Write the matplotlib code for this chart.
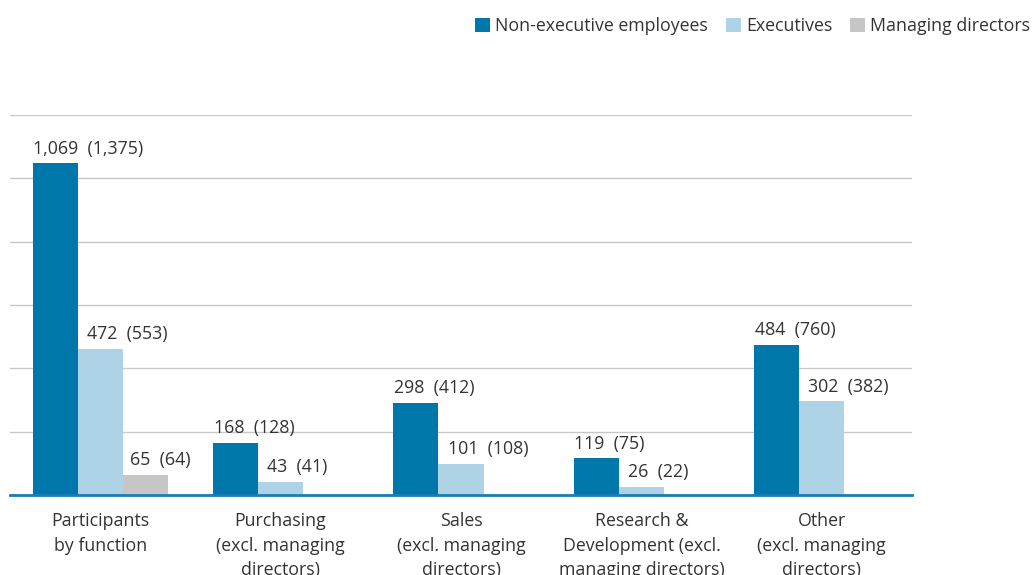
import matplotlib
matplotlib.use("Agg")
import matplotlib.pyplot as plt
import numpy as np
from matplotlib.patches import Patch

plt.rcParams['font.family'] = ['Open Sans', 'DejaVu Sans']

categories = ["Participants\nby function",
              "Purchasing\n(excl. managing\ndirectors)",
              "Sales\n(excl. managing\ndirectors)",
              "Research &\nDevelopment (excl.\nmanaging directors)",
              "Other\n(excl. managing\ndirectors)"]
series_names = ["Non-executive employees", "Executives", "Managing directors"]
non_exec = [1069, 168, 298, 119, 484]
non_exec_prev = ["1,375", "128", "412", "75", "760"]
execs = [472, 43, 101, 26, 302]
execs_prev = ["553", "41", "108", "22", "382"]
mds = [65, None, None, None, None]
mds_prev = ["64", None, None, None, None]

colors = ["#0077aa", "#aed3e6", "#c6c6c6"]

fig = plt.figure(figsize=(10.33, 5.75), dpi=100)
ax = fig.add_axes([0.0097, 0.139, 0.8732, 0.661])

ymax = 1225
ax.set_ylim(0, ymax)
ax.set_xlim(-0.5, len(categories) - 0.5)
ax.set_yticks(np.linspace(0, ymax, 7))
ax.yaxis.grid(True, color="#c8c8c8", linewidth=1)
ax.set_axisbelow(True)
ax.tick_params(left=False, labelleft=False, bottom=False)
for s in ["top", "right", "left"]:
    ax.spines[s].set_visible(False)
ax.spines["bottom"].set_color("#1a7db5")
ax.spines["bottom"].set_linewidth(2)

width = 0.25
x = np.arange(len(categories))
all_series = [(non_exec, non_exec_prev), (execs, execs_prev), (mds, mds_prev)]
x_offsets = [0.5, 6.5, 5.5]
for i, (vals, prevs) in enumerate(all_series):
    for j, (v, p) in enumerate(zip(vals, prevs)):
        if v is None:
            continue
        left = x[j] + (i - 1) * width - width / 2
        ax.bar(left, v, width=width, align="edge", color=colors[i], zorder=2)
        txt = f"{v:,}  ({p})"
        ax.annotate(txt, (left, v), xytext=(x_offsets[i], 4), textcoords="offset points",
                    ha="left", va="bottom", fontsize=12.8, color="#333333")

ax.set_xticks(x)
ax.set_xticklabels(categories, fontsize=12.8, color="#333333", linespacing=1.45)
ax.tick_params(axis="x", pad=9)

handles = [Patch(facecolor=c, edgecolor="none") for c in colors]
fig.legend(handles, series_names, loc="upper right", bbox_to_anchor=(1.013, 0.998),
           ncol=3, frameon=False, fontsize=12.8, handlelength=0.85, handleheight=0.85,
           handletextpad=0.3, columnspacing=1.0, labelcolor="#333333")

fig.savefig("out.png", dpi=100)
